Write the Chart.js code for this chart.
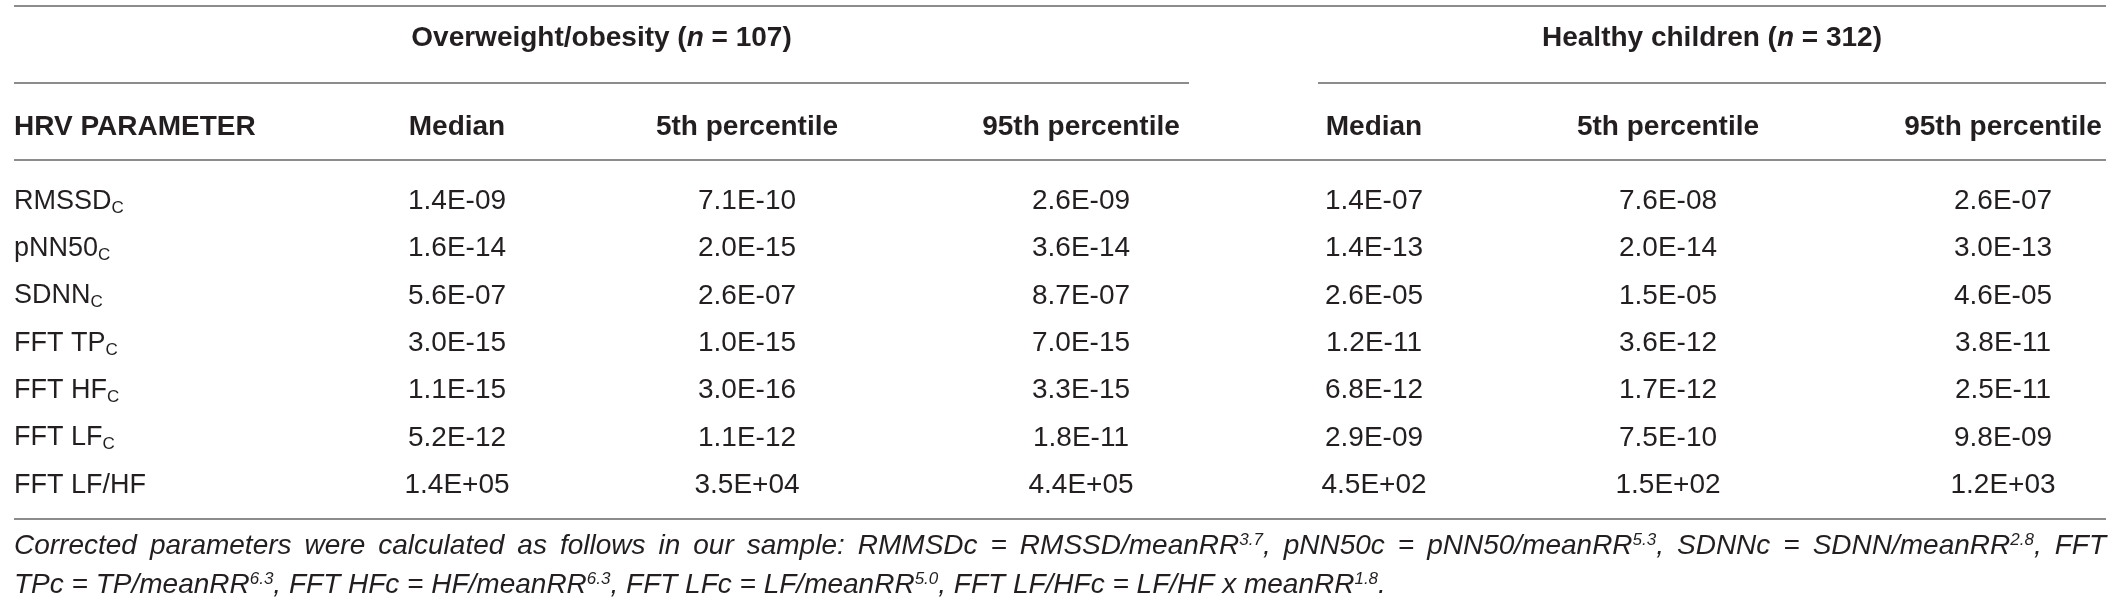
<!DOCTYPE html>
<html>
<head>
<meta charset="utf-8">
<script src="https://cdn.jsdelivr.net/npm/chart.js@4.4.1/dist/chart.umd.min.js"></script>
<style>
html,body{margin:0;padding:0;background:#fff;}
#wrap{width:2118px;height:609px;}
</style>
</head>
<body>
<div id="wrap"><canvas id="c" width="2118" height="609"></canvas></div>
<script>
// ---------------- DATA ----------------
const groupNames = ['Overweight/obesity', 'Healthy children'];
const groupN = [107, 312];
const paramHeader = 'HRV PARAMETER';
const statHeaders = ['Median', '5th percentile', '95th percentile'];
const params = ['RMSSD', 'pNN50', 'SDNN', 'FFT TP', 'FFT HF', 'FFT LF', 'FFT LF/HF'];
const paramSubs = ['C', 'C', 'C', 'C', 'C', 'C', ''];
const obeseMedian   = [1.4e-9, 1.6e-14, 5.6e-7, 3.0e-15, 1.1e-15, 5.2e-12, 1.4e5];
const obeseP5       = [7.1e-10, 2.0e-15, 2.6e-7, 1.0e-15, 3.0e-16, 1.1e-12, 3.5e4];
const obeseP95      = [2.6e-9, 3.6e-14, 8.7e-7, 7.0e-15, 3.3e-15, 1.8e-11, 4.4e5];
const healthyMedian = [1.4e-7, 1.4e-13, 2.6e-5, 1.2e-11, 6.8e-12, 2.9e-9, 4.5e2];
const healthyP5     = [7.6e-8, 2.0e-14, 1.5e-5, 3.6e-12, 1.7e-12, 7.5e-10, 1.5e2];
const healthyP95    = [2.6e-7, 3.0e-13, 4.6e-5, 3.8e-11, 2.5e-11, 9.8e-9, 1.2e3];
const footnoteLine1 = [
  ['Corrected parameters were calculated as follows in our sample: RMMSDc = RMSSD/meanRR'], ['3.7', 'sup'],
  [', pNN50c = pNN50/meanRR'], ['5.3', 'sup'],
  [', SDNNc = SDNN/meanRR'], ['2.8', 'sup'], [', FFT']
];
const footnoteLine2 = [
  ['TPc = TP/meanRR'], ['6.3', 'sup'], [', FFT HFc = HF/meanRR'], ['6.3', 'sup'],
  [', FFT LFc = LF/meanRR'], ['5.0', 'sup'], [', FFT LF/HFc = LF/HF x meanRR'], ['1.8', 'sup'], ['.']
];

// ---------------- LAYOUT / STYLE ----------------
const LAYOUT = {
  width: 2118,
  left: 14, right: 2106, labelX: 14,
  colCenters: [457, 747, 1081, 1374, 1668, 2003],
  groupSpans: [[14, 1189], [1318, 2106]],
  ruleTop: 6, ruleGroup: 83, ruleHeader: 160, ruleBottom: 519,
  groupTextY: 36, headerTextY: 125,
  firstRowY: 199, lastRowY: 483,
  footY: [544, 583]
};
const FF = '"Liberation Sans", Arial, Helvetica, sans-serif';
const STYLE = {
  text: '#231f20', rule: '#8c8c8c', ruleWidth: 1.8,
  headSize: 28, cellSize: 28, labelSize: 27, subSize: 17, subDrop: 4,
  footSize: 28, supSize: 17, supRise: 9
};

function sci(v) {
  const s = v.toExponential(1);
  const parts = s.split('e');
  const n = parseInt(parts[1], 10);
  return parts[0] + 'E' + (n < 0 ? '-' : '+') + String(Math.abs(n)).padStart(2, '0');
}

const valueColumns = [obeseMedian, obeseP5, obeseP95, healthyMedian, healthyP5, healthyP95];
const rowKeys = params.map((p, i) => p + paramSubs[i]);

const tablePlugin = {
  id: 'tableText',
  afterDraw(chart) {
    const ctx = chart.ctx;
    const xs = chart.scales.x, ys = chart.scales.y;
    const X = v => xs.getPixelForValue(v);
    ctx.save();
    ctx.fillStyle = STYLE.text;
    ctx.textBaseline = 'alphabetic';

    const base = (y, size) => y + size * 0.358;

    function measureRuns(runs) {
      let w = 0;
      runs.forEach(r => { ctx.font = r.font; r.w = ctx.measureText(r.t).width; w += r.w; });
      return w;
    }
    function drawRuns(runs, x, yb, align) {
      const w = measureRuns(runs);
      let cx = align === 'center' ? x - w / 2 : (align === 'right' ? x - w : x);
      ctx.textAlign = 'left';
      runs.forEach(r => { ctx.font = r.font; ctx.fillText(r.t, cx, yb + (r.dy || 0)); cx += r.w; });
    }

    // rules
    ctx.strokeStyle = STYLE.rule;
    ctx.lineWidth = STYLE.ruleWidth;
    const hline = (x0, x1, y) => { ctx.beginPath(); ctx.moveTo(X(x0), y); ctx.lineTo(X(x1), y); ctx.stroke(); };
    hline(LAYOUT.left, LAYOUT.right, LAYOUT.ruleTop);
    LAYOUT.groupSpans.forEach(s => hline(s[0], s[1], LAYOUT.ruleGroup));
    hline(LAYOUT.left, LAYOUT.right, LAYOUT.ruleHeader);
    hline(LAYOUT.left, LAYOUT.right, LAYOUT.ruleBottom);

    // group headers
    const hb = `bold ${STYLE.headSize}px ${FF}`;
    const hbi = `italic bold ${STYLE.headSize}px ${FF}`;
    groupNames.forEach((g, i) => {
      const s = LAYOUT.groupSpans[i];
      const cx = X((s[0] + s[1]) / 2);
      drawRuns([{ t: g + ' (', font: hb }, { t: 'n', font: hbi }, { t: ' = ' + groupN[i] + ')', font: hb }],
        cx, base(LAYOUT.groupTextY, STYLE.headSize), 'center');
    });

    // column headers
    drawRuns([{ t: paramHeader, font: hb }], X(LAYOUT.labelX), base(LAYOUT.headerTextY, STYLE.headSize), 'left');
    LAYOUT.colCenters.forEach((c, i) => {
      drawRuns([{ t: statHeaders[i % 3], font: hb }], X(c), base(LAYOUT.headerTextY, STYLE.headSize), 'center');
    });

    // row labels
    const lf = `${STYLE.labelSize}px ${FF}`;
    const cf = `${STYLE.cellSize}px ${FF}`;
    const sf = `${STYLE.subSize}px ${FF}`;
    params.forEach((p, i) => {
      const y = ys.getPixelForValue(i);
      const runs = [{ t: p, font: lf }];
      if (paramSubs[i]) runs.push({ t: paramSubs[i], font: sf, dy: STYLE.subDrop });
      drawRuns(runs, X(LAYOUT.labelX), base(y, STYLE.labelSize), 'left');
    });

    // cell values from dataset elements
    chart.data.datasets.forEach((ds, di) => {
      const meta = chart.getDatasetMeta(di);
      meta.data.forEach((el, ri) => {
        drawRuns([{ t: sci(ds.values[ri]), font: cf }], el.x, base(el.y, STYLE.cellSize), 'center');
      });
    });

    // footnote
    const ff = `italic ${STYLE.footSize}px ${FF}`;
    const fs = `italic ${STYLE.supSize}px ${FF}`;
    function words(line) {
      const out = [[]];
      line.forEach(seg => {
        const isSup = seg[1] === 'sup';
        const pieces = seg[0].split(' ');
        pieces.forEach((pc, k) => {
          if (k > 0) out.push([]);
          if (pc.length) out[out.length - 1].push({ t: pc, font: isSup ? fs : ff, dy: isSup ? -STYLE.supRise : 0 });
        });
      });
      return out.filter(w => w.length);
    }
    function drawFoot(line, yc, justify) {
      const ws = words(line);
      const widths = ws.map(w => measureRuns(w));
      ctx.font = ff;
      const sp = ctx.measureText(' ').width;
      const total = widths.reduce((a, b) => a + b, 0);
      const avail = X(LAYOUT.right) - X(LAYOUT.labelX);
      const gap = justify ? (avail - total) / (ws.length - 1) : sp;
      let x = X(LAYOUT.labelX);
      const yb = base(yc, STYLE.footSize);
      ws.forEach((w, i) => { drawRuns(w, x, yb, 'left'); x += widths[i] + gap; });
    }
    drawFoot(footnoteLine1, LAYOUT.footY[0], true);
    drawFoot(footnoteLine2, LAYOUT.footY[1], false);

    ctx.restore();
  }
};

const canvas = document.getElementById('c');
new Chart(canvas, {
  type: 'scatter',
  data: {
    datasets: valueColumns.map((col, ci) => ({
      label: groupNames[Math.floor(ci / 3)] + ' ' + statHeaders[ci % 3],
      values: col,
      data: col.map((v, ri) => ({ x: LAYOUT.colCenters[ci], y: rowKeys[ri] })),
      pointRadius: 0,
      pointHoverRadius: 0
    }))
  },
  options: {
    responsive: false,
    devicePixelRatio: 1,
    animation: false,
    events: [],
    layout: { padding: { left: 0, right: 0, top: LAYOUT.firstRowY, bottom: 609 - LAYOUT.lastRowY } },
    plugins: { legend: { display: false }, tooltip: { enabled: false } },
    scales: {
      x: { type: 'linear', min: 0, max: LAYOUT.width, display: false },
      y: { type: 'category', labels: rowKeys, offset: false, display: false }
    }
  },
  plugins: [tablePlugin]
});
</script>
</body>
</html>
